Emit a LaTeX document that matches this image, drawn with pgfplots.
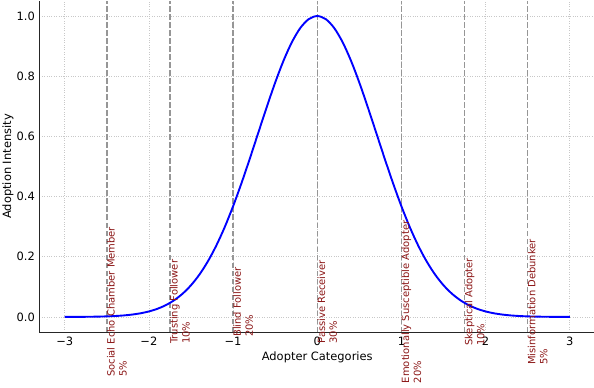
\documentclass[border=0pt]{standalone}
\usepackage{fontspec}
\setmainfont{DejaVu Sans}
\usepackage{pgfplots}
\pgfplotsset{compat=1.18}
\definecolor{lbl}{RGB}{139,22,22}
\definecolor{dashc}{RGB}{150,150,150}
\definecolor{gridc}{RGB}{200,200,200}
\begin{document}
\fontsize{10}{12}\selectfont
\begin{tikzpicture}
\begin{axis}[
  scale only axis, width=555.5bp, height=331bp,
  xmin=-3.3, xmax=3.3, ymin=-0.05, ymax=1.05,
  clip=false,
  axis x line*=bottom, axis y line*=left,
  axis line style={black!85, line width=1pt, -},
  xtick={-3,-2,-1,0,1,2,3},
  xticklabels={−3,−2,−1,0,1,2,3},
  ytick={0,0.2,0.4,0.6,0.8,1},
  yticklabels={0.0,0.2,0.4,0.6,0.8,1.0},
  /pgf/number format/assume math mode=true,
  major tick length=0pt,
  grid=major, grid style={dotted, gridc, line width=0.7pt},
  tick label style={font=\fontsize{11.5}{13.8}\selectfont},
  xticklabel style={inner sep=0pt, yshift=-5bp},
  yticklabel style={inner sep=0pt, xshift=-4.5bp},
  xlabel={Adopter Categories}, ylabel={Adoption Intensity},
  every axis x label/.style={at={(axis description cs:0.5,0)}, anchor=center, yshift=-25.5bp, font=\fontsize{11.5}{13.8}\selectfont},
  every axis y label/.style={at={(axis description cs:-0.0567,0.5)}, anchor=center, rotate=90, font=\fontsize{11.5}{13.8}\selectfont},
  vl/.style={dashc, line width=1.4pt, dash pattern=on 5.5bp off 2.5bp},
]
\coordinate (LL) at (rel axis cs:0,0);
\coordinate (UR) at (rel axis cs:1,1);
\addplot[vl] coordinates {(-2.5,-0.05) (-2.5,1.05)};
\addplot[vl] coordinates {(-1.75,-0.05) (-1.75,1.05)};
\addplot[vl] coordinates {(-1,-0.05) (-1,1.05)};
\addplot[vl] coordinates {(0,-0.05) (0,1.05)};
\addplot[vl] coordinates {(1,-0.05) (1,1.05)};
\addplot[vl] coordinates {(1.75,-0.05) (1.75,1.05)};
\addplot[vl] coordinates {(2.5,-0.05) (2.5,1.05)};
\addplot[blue, line width=1.9pt, smooth, no markers] coordinates {
(-3.0,0.00012) (-2.9,0.00022) (-2.8,0.00039) (-2.7,0.00068) (-2.6,0.00116)
(-2.5,0.00193) (-2.4,0.00315) (-2.3,0.00504) (-2.2,0.00791) (-2.1,0.01216)
(-2.0,0.01832) (-1.9,0.02705) (-1.8,0.03916) (-1.7,0.05558) (-1.6,0.07730)
(-1.5,0.10540) (-1.4,0.14086) (-1.3,0.18452) (-1.2,0.23693) (-1.1,0.29820)
(-1.0,0.36788) (-0.9,0.44486) (-0.8,0.52729) (-0.7,0.61263) (-0.6,0.69768)
(-0.5,0.77880) (-0.4,0.85214) (-0.3,0.91393) (-0.2,0.96079) (-0.1,0.99005)
(0.0,1.00000)
(0.1,0.99005) (0.2,0.96079) (0.3,0.91393) (0.4,0.85214) (0.5,0.77880)
(0.6,0.69768) (0.7,0.61263) (0.8,0.52729) (0.9,0.44486) (1.0,0.36788)
(1.1,0.29820) (1.2,0.23693) (1.3,0.18452) (1.4,0.14086) (1.5,0.10540)
(1.6,0.07730) (1.7,0.05558) (1.8,0.03916) (1.9,0.02705) (2.0,0.01832)
(2.1,0.01216) (2.2,0.00791) (2.3,0.00504) (2.4,0.00315) (2.5,0.00193)
(2.6,0.00116) (2.7,0.00068) (2.8,0.00039) (2.9,0.00022) (3.0,0.00012)
};
\tikzset{lab/.style={rotate=90, anchor=north, align=left, inner sep=0pt, text=lbl, font=\fontsize{10}{12}\selectfont}}
\node[lab] at (axis cs:-2.5,0.05) {Social Echo Chamber Member\\5\%};
\node[lab] at (axis cs:-1.75,0.05) {Trusting Follower\\10\%};
\node[lab] at (axis cs:-1,0.05) {Blind Follower\\20\%};
\node[lab] at (axis cs:0,0.05) {Passive Receiver\\30\%};
\node[lab] at (axis cs:1,0.05) {Emotionally Susceptible Adopter\\20\%};
\node[lab] at (axis cs:1.75,0.05) {Skeptical Adopter\\10\%};
\node[lab] at (axis cs:2.5,0.05) {Misinformation Debunker\\5\%};
\end{axis}
\pgfresetboundingbox
\useasboundingbox ([shift={(-39.5bp,-56bp)}]LL) rectangle ([shift={(-1bp,1bp)}]UR);
\end{tikzpicture}
\end{document}
